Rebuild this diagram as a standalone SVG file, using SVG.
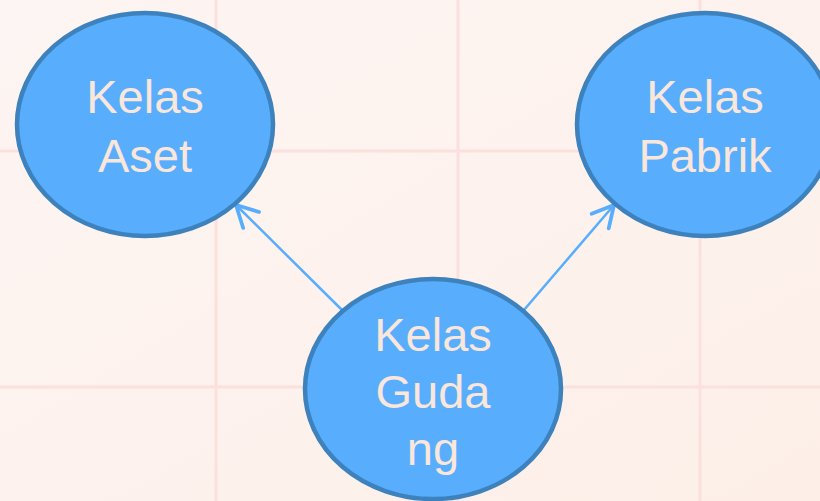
<svg xmlns="http://www.w3.org/2000/svg" width="820" height="501" viewBox="0 0 820 501">
<defs>
<linearGradient id="bg" x1="0" y1="0" x2="1" y2="1">
<stop offset="0" stop-color="#fdf5f3"/>
<stop offset="1" stop-color="#fdefe8"/>
</linearGradient>
<marker id="arr" markerUnits="userSpaceOnUse" markerWidth="30" markerHeight="30" viewBox="-20 -12 24 24" refX="0" refY="0" orient="auto">
<path d="M-17,-9 L0,0 L-17,9" fill="none" stroke="#58aefd" stroke-width="3" stroke-linecap="round" stroke-linejoin="round"/>
</marker>
<style>
.grid{stroke:#fce0dd;stroke-width:3}
.node{fill:#58aefd;stroke:#3d82bd;stroke-width:4.5}
.lbl{font-family:"Liberation Sans",Arial,sans-serif;font-size:47px;fill:#fbe6da;text-anchor:middle}
.edge{stroke:#58aefd;stroke-width:2.5;fill:none;marker-end:url(#arr)}
</style>
</defs>
<rect width="820" height="501" fill="url(#bg)"/>
<g id="grid">
<line class="grid" x1="216" y1="0" x2="216" y2="501"/>
<line class="grid" x1="458" y1="0" x2="458" y2="501"/>
<line class="grid" x1="700" y1="0" x2="700" y2="501"/>
<line class="grid" x1="0" y1="151" x2="820" y2="151"/>
<line class="grid" x1="0" y1="387" x2="820" y2="387"/>
</g>
<g id="connectors">
<line class="edge" x1="342" y1="310" x2="236" y2="205"/>
<line class="edge" x1="524" y1="310" x2="614" y2="205"/>
</g>
<g id="kelas-aset">
<ellipse class="node" cx="145" cy="124.5" rx="128" ry="111.5"/>
<text class="lbl" x="145" y="113">Kelas</text>
<text class="lbl" x="145" y="172">Aset</text>
</g>
<g id="kelas-pabrik">
<ellipse class="node" cx="705" cy="124.5" rx="128" ry="111.5"/>
<text class="lbl" x="705" y="113">Kelas</text>
<text class="lbl" x="705" y="172">Pabrik</text>
</g>
<g id="kelas-gudang">
<ellipse class="node" cx="433" cy="389" rx="128" ry="110"/>
<text class="lbl" x="433" y="351">Kelas</text>
<text class="lbl" x="433" y="408">Guda</text>
<text class="lbl" x="433" y="465">ng</text>
</g>
</svg>
